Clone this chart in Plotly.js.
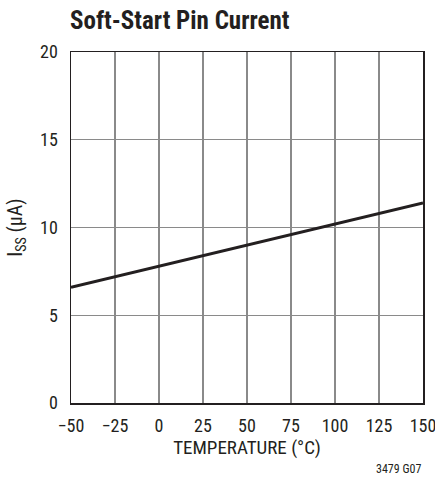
<!DOCTYPE html>
<html><head><meta charset="utf-8">
<script src="https://cdn.plot.ly/plotly-3.0.1.min.js"></script>
<style>body{margin:0;background:#fff}#c{width:435px;height:486px}</style>
</head><body><div id="c"></div>
<script>
const temperature = [-50, 0, 50, 100, 150];
const issCurrent = [6.6, 7.8, 9.0, 10.2, 11.4];
const xTicks = [-50, -25, 0, 25, 50, 75, 100, 125, 150];
const xTickLabels = ['\u221250', '\u221225', '0', '25', '50', '75', '100', '125', '150'];
const yTicks = [0, 5, 10, 15, 20];

const F = 'Liberation Sans Narrow, Arial Narrow, Roboto Condensed, Liberation Sans, sans-serif';
const trace = {x: temperature, y: issCurrent, mode: 'lines', line: {color: '#231f20', width: 3}, hoverinfo: 'skip'};
const layout = {
  width: 435, height: 486,
  margin: {l: 71, r: 12, t: 52, b: 83},
  paper_bgcolor: '#fff', plot_bgcolor: '#fff',
  showlegend: false,
  title: {text: '<b>Soft-Start Pin Current</b>', x: 70/435, xanchor: 'left', y: 1 - 20/486, yanchor: 'middle',
          font: {family: F, size: 25, color: '#231f20'}},
  xaxis: {range: [-50, 150], tickvals: xTicks, ticktext: xTickLabels, showgrid: true, gridcolor: '#8a8a8a', gridwidth: 1.3,
          zeroline: false, showline: true, mirror: true, linecolor: '#231f20', linewidth: 1.5, ticks: '',
          ticklabeloverflow: 'allow', ticklabelstandoff: 6,
          tickfont: {family: F, size: 18, color: '#231f20'},
          title: {text: 'TEMPERATURE (\u00b0C)', font: {family: F, size: 19, color: '#231f20'}, standoff: 4}},
  yaxis: {range: [0, 20], tickvals: yTicks, showgrid: true, gridcolor: '#8a8a8a', gridwidth: 1.3,
          zeroline: false, showline: true, mirror: true, linecolor: '#231f20', linewidth: 1.5, ticks: '',
          ticklabelstandoff: 8,
          tickfont: {family: F, size: 18, color: '#231f20'},
          title: {text: 'I<sub>SS</sub> (\u00b5A)', font: {family: F, size: 20, color: '#231f20'}, standoff: 12}},
  annotations: [{text: '3479 G07', xref: 'paper', yref: 'paper', x: 1, xanchor: 'right', y: (486-479-83)/403, yanchor: 'middle',
                 showarrow: false, font: {family: F, size: 12, color: '#231f20'}}]
};
Plotly.newPlot('c', [trace], layout, {displayModeBar: false, staticPlot: true});
</script></body></html>
